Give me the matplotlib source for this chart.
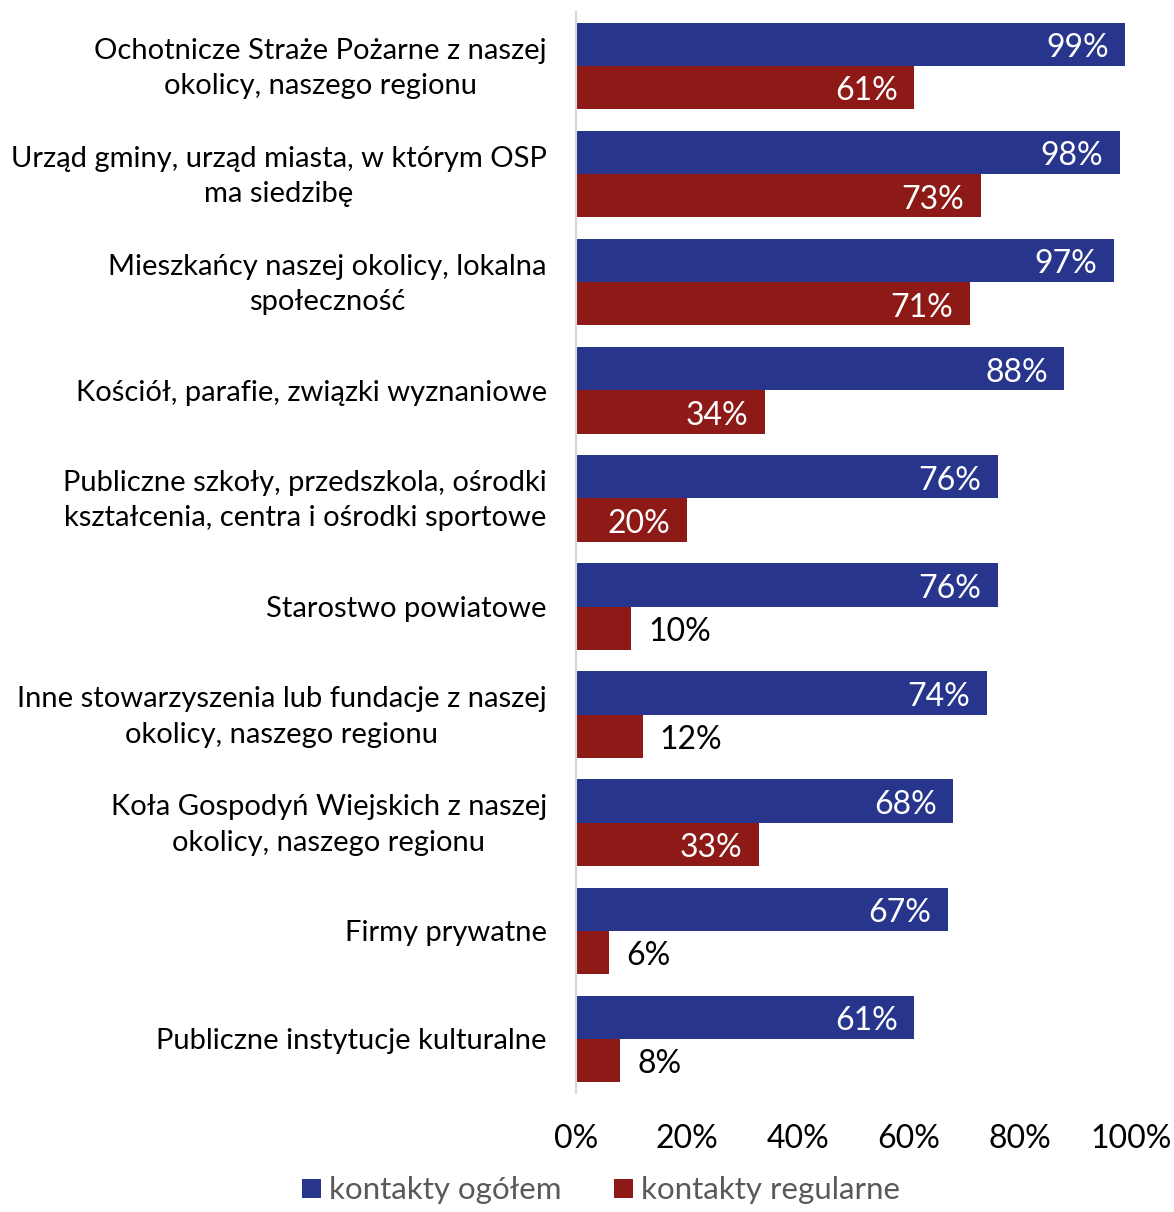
import matplotlib.pyplot as plt
import matplotlib.transforms as mtransforms
import numpy as np

plt.rcParams['font.family'] = ['Lato', 'DejaVu Sans']

categories = [
    'Ochotnicze Straże Pożarne z naszej\nokolicy, naszego regionu',
    'Urząd gminy, urząd miasta, w którym OSP\nma siedzibę',
    'Mieszkańcy naszej okolicy, lokalna\nspołeczność',
    'Kościół, parafie, związki wyznaniowe',
    'Publiczne szkoły, przedszkola, ośrodki\nkształcenia, centra i ośrodki sportowe',
    'Starostwo powiatowe',
    'Inne stowarzyszenia lub fundacje z naszej\nokolicy, naszego regionu',
    'Koła Gospodyń Wiejskich z naszej\nokolicy, naszego regionu',
    'Firmy prywatne',
    'Publiczne instytucje kulturalne',
]
ogolem = [99, 98, 97, 88, 76, 76, 74, 68, 67, 61]
regularne = [61, 73, 71, 34, 20, 10, 12, 33, 6, 8]
ticks = [0, 20, 40, 60, 80, 100]

blue = '#28358C'
red = '#8E1A17'

fig = plt.figure(figsize=(11.74, 12.12), dpi=100)
ax = fig.add_axes([0.4906, 0.0982, 0.4727, 0.8919])

y = np.arange(len(categories))
h = 0.4
ax.barh(y - h / 2, ogolem, height=h, color=blue, label='kontakty ogółem')
ax.barh(y + h / 2, regularne, height=h, color=red, label='kontakty regularne')

dy = 0.035
for i, (a, b) in enumerate(zip(ogolem, regularne)):
    ax.text(a - 3.0, i - h / 2 + dy, f'{a}%', ha='right', va='center', color='white', fontsize=23)
    if b >= 20:
        ax.text(b - 3.0, i + h / 2 + dy, f'{b}%', ha='right', va='center', color='white', fontsize=23)
    else:
        ax.text(b + 3.0, i + h / 2 + dy, f'{b}%', ha='left', va='center', color='black', fontsize=23)

ax.set_xlim(0, 100)
ax.set_ylim(len(categories) - 0.5, -0.5)
ax.set_xticks(ticks)
ax.set_xticklabels([f'{t}%' for t in ticks], fontsize=23)
ax.set_yticks(y)
ax.set_yticklabels(categories, fontsize=21, multialignment='center', linespacing=1.45)
ax.tick_params(axis='both', length=0)
ax.tick_params(axis='x', pad=22)
ax.tick_params(axis='y', pad=21)

# nudge two-line labels up a little so they sit centred on the row
shift = mtransforms.ScaledTranslation(0, 5 / 100, fig.dpi_scale_trans)
for lab in ax.get_yticklabels():
    if '\n' in lab.get_text():
        lab.set_transform(lab.get_transform() + shift)

for s in ['top', 'right', 'bottom']:
    ax.spines[s].set_visible(False)
ax.spines['left'].set_color('#D9D9D9')
ax.spines['left'].set_linewidth(1.5)

fig.legend(loc='lower center', bbox_to_anchor=(0.512, -0.017), ncol=2, frameon=False,
           fontsize=22.5, handlelength=0.6, handleheight=0.6, handletextpad=0.25,
           columnspacing=1.7, labelcolor='#595959')

fig.savefig('out.png', dpi=100)
